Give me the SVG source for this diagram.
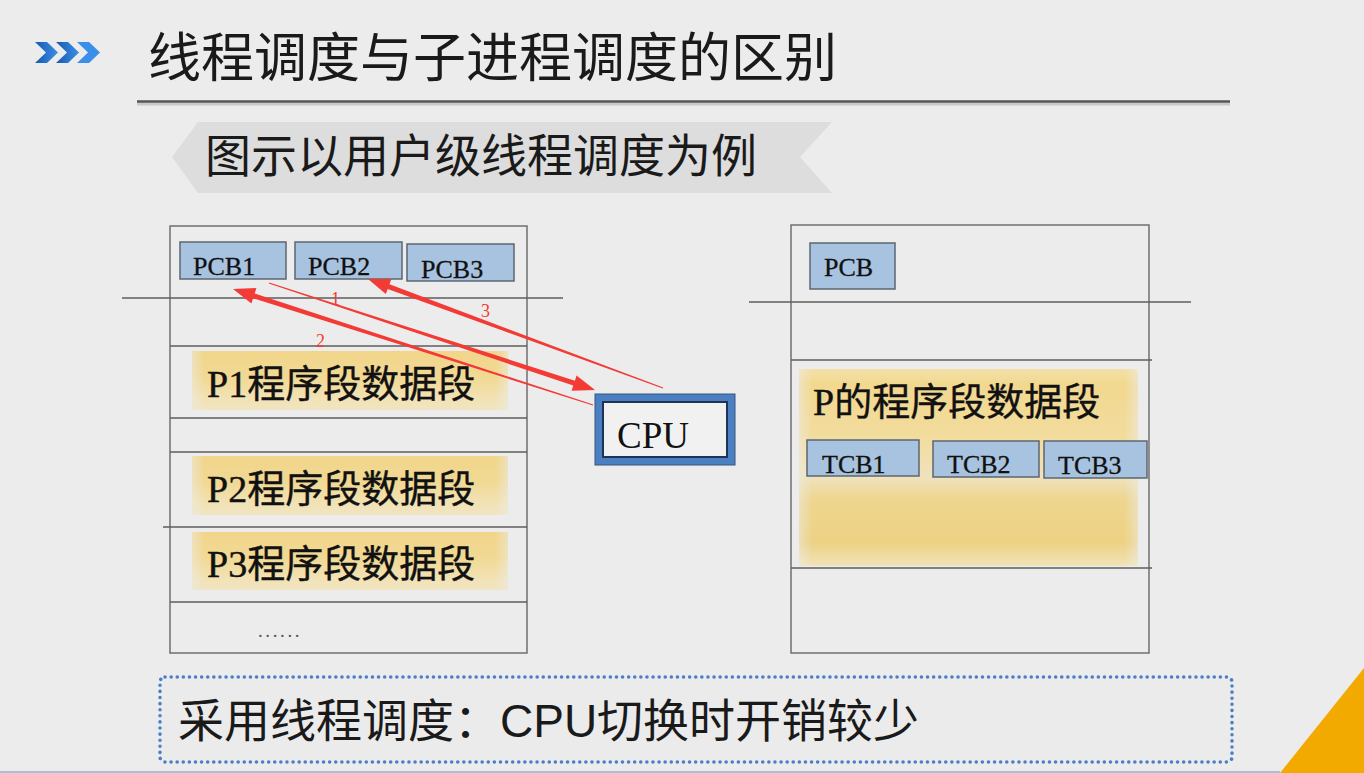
<svg xmlns="http://www.w3.org/2000/svg" width="1364" height="773" viewBox="0 0 1364 773">
  <defs>
    <linearGradient id="chev" x1="0" y1="0" x2="1" y2="0">
      <stop offset="0" stop-color="#1659b0"/>
      <stop offset="1" stop-color="#3c8fe8"/>
    </linearGradient>
    <linearGradient id="bar" x1="0" y1="0" x2="0" y2="1">
      <stop offset="0" stop-color="#f1d58a"/>
      <stop offset="0.45" stop-color="#f1d994"/>
      <stop offset="0.8" stop-color="#f2e2b4"/>
      <stop offset="1" stop-color="#f0e4c2"/>
    </linearGradient>
    <linearGradient id="barEdge" x1="0" y1="0" x2="1" y2="0">
      <stop offset="0" stop-color="#ececec" stop-opacity="0.5"/>
      <stop offset="0.04" stop-color="#ececec" stop-opacity="0"/>
      <stop offset="0.96" stop-color="#ececec" stop-opacity="0"/>
      <stop offset="1" stop-color="#ececec" stop-opacity="0.5"/>
    </linearGradient>
    <linearGradient id="bigBar" x1="0" y1="0" x2="0" y2="1">
      <stop offset="0" stop-color="#f3e0a8"/>
      <stop offset="0.08" stop-color="#f2d88f"/>
      <stop offset="0.35" stop-color="#f2dc9e"/>
      <stop offset="0.55" stop-color="#efe2bc"/>
      <stop offset="0.66" stop-color="#eed690"/>
      <stop offset="0.88" stop-color="#edd283"/>
      <stop offset="1" stop-color="#f1e3b8"/>
    </linearGradient>
    <style>
      .bg { fill: #ececec; }
      .frame { fill: none; stroke: #6f6f6f; stroke-width: 1.5; }
      .rule { stroke: #5e5e5e; stroke-width: 1.5; }
      .cb { fill: #a7c3df; stroke: #5d6570; stroke-width: 1.5; }
      .cbt { font-family: "Liberation Serif", serif; font-size: 26px; fill: #111; stroke: #111; stroke-width: 0.3; }
      .seg { font-family: "Liberation Serif", "Noto Sans CJK SC", sans-serif; font-size: 38px; fill: #111; stroke: #111; stroke-width: 0.4; }
      .arrow { fill: #f43a35; }
      .num { font-family: "Liberation Serif", serif; font-size: 18px; fill: #f43a35; }
    </style>
  </defs>

  <rect class="bg" x="0" y="0" width="1364" height="773"/>

  <!-- heading -->
  <g id="heading">
    <path d="M35,42 h12 l11,10.5 l-11,10.5 h-12 l11,-10.5 Z" fill="url(#chev)"/>
    <path d="M56,42 h12 l11,10.5 l-11,10.5 h-12 l11,-10.5 Z" fill="url(#chev)"/>
    <path d="M77,42 h12 l11,10.5 l-11,10.5 h-12 l11,-10.5 Z" fill="#3c8fe8"/>
    <text x="148" y="77" font-family="Noto Sans CJK SC, sans-serif" font-size="53" fill="#1a1a1a">线程调度与子进程调度的区别</text>
    <line x1="137" y1="104" x2="1230" y2="104" stroke="#c8c8c8" stroke-width="3"/>
    <line x1="137" y1="101.5" x2="1230" y2="101.5" stroke="#555" stroke-width="2.5"/>
  </g>

  <!-- subtitle banner -->
  <g id="banner">
    <polygon points="198,122 832,122 800,157 832,193 198,193 172,157" fill="#dddddd"/>
    <text x="205" y="172" font-family="Noto Sans CJK SC, sans-serif" font-size="46" fill="#1a1a1a">图示以用户级线程调度为例</text>
  </g>

  <!-- left memory layout: one process per program -->
  <g id="left-memory">
    <rect class="frame" x="170" y="226" width="357" height="427"/>
    <line class="rule" x1="122" y1="298" x2="563" y2="298"/>
    <line class="rule" x1="170" y1="346" x2="527" y2="346"/>
    <line class="rule" x1="170" y1="418" x2="527" y2="418"/>
    <line class="rule" x1="170" y1="452" x2="527" y2="452"/>
    <line class="rule" x1="163" y1="527" x2="527" y2="527"/>
    <line class="rule" x1="170" y1="602" x2="527" y2="602"/>
    <text x="258" y="637" font-family="Liberation Serif, serif" font-size="19" fill="#555" letter-spacing="2.6">......</text>
  </g>

  <g id="pcb1">
    <rect class="cb" x="180" y="242" width="106" height="37"/>
    <text class="cbt" x="193" y="275">PCB1</text>
  </g>
  <g id="pcb2">
    <rect class="cb" x="295" y="242" width="107" height="37"/>
    <text class="cbt" x="308" y="275">PCB2</text>
  </g>
  <g id="pcb3">
    <rect class="cb" x="407" y="244" width="107" height="37"/>
    <text class="cbt" x="421" y="278">PCB3</text>
  </g>

  <g id="p1-seg">
    <rect x="192" y="351" width="316" height="59" fill="url(#bar)"/>
    <rect x="192" y="351" width="316" height="59" fill="url(#barEdge)"/>
    <text class="seg" x="207" y="397">P1程序段数据段</text>
  </g>
  <g id="p2-seg">
    <rect x="192" y="456" width="316" height="59" fill="url(#bar)"/>
    <rect x="192" y="456" width="316" height="59" fill="url(#barEdge)"/>
    <text class="seg" x="207" y="502">P2程序段数据段</text>
  </g>
  <g id="p3-seg">
    <rect x="192" y="532" width="316" height="58" fill="url(#bar)"/>
    <rect x="192" y="532" width="316" height="58" fill="url(#barEdge)"/>
    <text class="seg" x="207" y="577">P3程序段数据段</text>
  </g>

  <!-- processor -->
  <g id="cpu">
    <rect x="595" y="394" width="140" height="71" fill="#4a80c2" stroke="#39557a" stroke-width="1"/>
    <rect x="603" y="402" width="124" height="55" fill="#f1f1f1" stroke="#1f3358" stroke-width="2"/>
    <text x="617" y="448" font-family="Liberation Serif, serif" font-size="37" fill="#111">CPU</text>
  </g>

  <!-- right memory layout: one process with threads -->
  <g id="right-memory">
    <rect class="frame" x="791" y="225" width="358" height="428"/>
    <line class="rule" x1="749" y1="302" x2="1191" y2="302"/>
    <line class="rule" x1="791" y1="360" x2="1152" y2="360"/>
    <line class="rule" x1="791" y1="568" x2="1152" y2="568"/>
  </g>

  <g id="pcb">
    <rect class="cb" x="810" y="243" width="85" height="46"/>
    <text class="cbt" x="824" y="276">PCB</text>
  </g>

  <g id="p-seg">
    <rect x="799" y="369" width="339" height="197" fill="url(#bigBar)"/>
    <rect x="799" y="369" width="339" height="197" fill="url(#barEdge)"/>
    <text class="seg" x="813" y="415">P的程序段数据段</text>
  </g>

  <g id="tcb1">
    <rect class="cb" x="807" y="440" width="112" height="36"/>
    <text class="cbt" x="822" y="473">TCB1</text>
  </g>
  <g id="tcb2">
    <rect class="cb" x="933" y="441" width="106" height="36"/>
    <text class="cbt" x="947" y="473">TCB2</text>
  </g>
  <g id="tcb3">
    <rect class="cb" x="1044" y="441" width="103" height="37"/>
    <text class="cbt" x="1058" y="474">TCB3</text>
  </g>

  <!-- tapered switching arrows: thin tail, widening towards the head -->
  <g id="connectors">
    <polygon class="arrow" points="269.2,282.5 574.9,380.7 576.6,375.5 595,390 571.6,390.7 573.3,385.5 268.8,283.5"/>
    <polygon class="arrow" points="593.2,404.5 254.7,293.4 256.4,288.1 233,289 251.4,303.4 253.1,298.1 592.9,405.5"/>
    <polygon class="arrow" points="663.2,387.5 389.5,284.3 391.4,279.1 368,279 385.8,294.1 387.7,288.9 662.8,388.5"/>
    <text class="num" x="331" y="305">1</text>
    <text class="num" x="316" y="347">2</text>
    <text class="num" x="481" y="317">3</text>
  </g>

  <!-- conclusion -->
  <g id="conclusion">
    <rect x="160" y="677" width="1072" height="85" rx="5" fill="#ebebeb" stroke="#4a7fc8" stroke-width="3.5" stroke-dasharray="0.1 6" stroke-linecap="round"/>
    <text x="178" y="737" font-family="Liberation Sans, Noto Sans CJK SC, sans-serif" font-size="46" fill="#1a1a1a">采用线程调度：CPU切换时开销较少</text>
  </g>

  <!-- corner accent -->
  <polygon points="1280,773 1364,668 1364,773" fill="#f2a900"/>
  <line x1="0" y1="772" x2="1280" y2="772" stroke="#a9c0d6" stroke-width="2"/>
</svg>
